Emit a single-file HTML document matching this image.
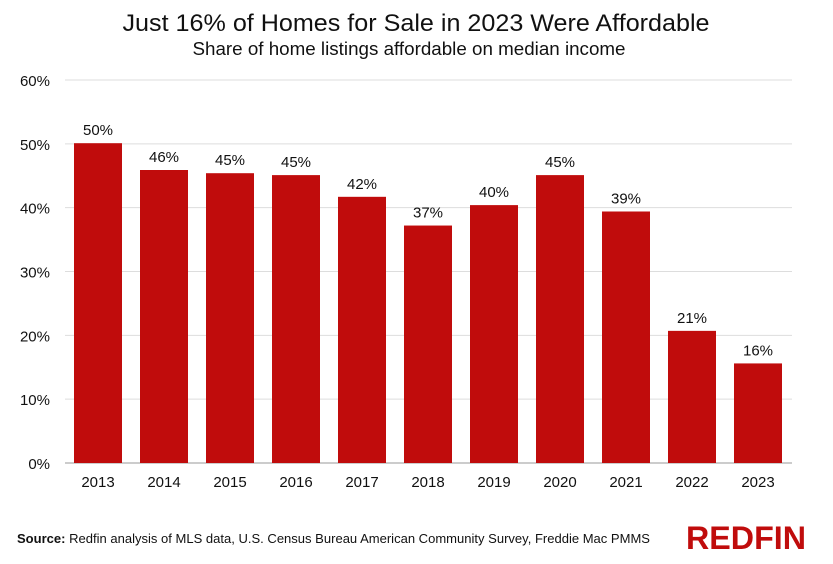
<!DOCTYPE html>
<html><head><meta charset="utf-8"><style>
body{margin:0;background:#fff;font-family:"Liberation Sans",sans-serif;}
#wrap{position:relative;width:833px;height:564px;overflow:hidden;background:#fff}
</style></head><body>
<div id="wrap">
<svg id="chart" width="833" height="564"></svg>
</div>
<script>
const years=["2013","2014","2015","2016","2017","2018","2019","2020","2021","2022","2023"];
const shares=[50.1,45.9,45.4,45.1,41.7,37.2,40.4,45.1,39.4,20.7,15.6];
const valueLabels=["50%","46%","45%","45%","42%","37%","40%","45%","39%","21%","16%"];
const yTicks=[0,10,20,30,40,50,60];
const NS="http://www.w3.org/2000/svg";
const svg=document.getElementById('chart');
const y0=463,y60=80,xL=65,xR=792;
const y=v=>y0-(v/60)*(y0-y60);
const step=66, x=i=>98+i*step, bw=48;
function mk(t,a,txt){const e=document.createElementNS(NS,t);for(const k in a)e.setAttribute(k,a[k]);if(txt!==undefined)e.textContent=txt;svg.appendChild(e);return e;}
let e;
e=mk('text',{x:416,y:31,'text-anchor':'middle','font-size':24,textLength:587,lengthAdjust:'spacingAndGlyphs',fill:'#111'},'Just 16% of Homes for Sale in 2023 Were Affordable');


e=mk('text',{x:409,y:55,'text-anchor':'middle','font-size':18,textLength:433,lengthAdjust:'spacingAndGlyphs',fill:'#111'},'Share of home listings affordable on median income');


yTicks.forEach(t=>{
 e=mk('line',{x1:xL,x2:xR,y1:y(t),y2:y(t),stroke:t===0?'#999':'#ddd','stroke-width':1});
 
 
 e=mk('text',{x:50,y:y(t)+6,'text-anchor':'end','font-size':15,fill:'#111'},t+'%');
 
 
});
years.forEach((yr,i)=>{
 e=mk('rect',{x:x(i)-bw/2,y:y(shares[i]),width:bw,height:y0-y(shares[i]),fill:'#c00c0c'});
 
 
 e=mk('text',{x:x(i),y:y(shares[i])-8,'text-anchor':'middle','font-size':15,fill:'#111'},valueLabels[i]);
 
 
 e=mk('text',{x:x(i),y:487,'text-anchor':'middle','font-size':15,fill:'#111'},yr);
 
 
});
e=mk('text',{x:17,y:543,'font-size':13,textLength:633,lengthAdjust:'spacingAndGlyphs',fill:'#111'});
e.innerHTML='<tspan font-weight="bold">Source:</tspan> Redfin analysis of MLS data, U.S. Census Bureau American Community Survey, Freddie Mac PMMS';


e=mk('text',{x:806,y:549,'text-anchor':'end','font-size':32,'font-weight':'bold',textLength:120,lengthAdjust:'spacingAndGlyphs',fill:'#c00c0c'},'REDFIN');


</script>
</body></html>
